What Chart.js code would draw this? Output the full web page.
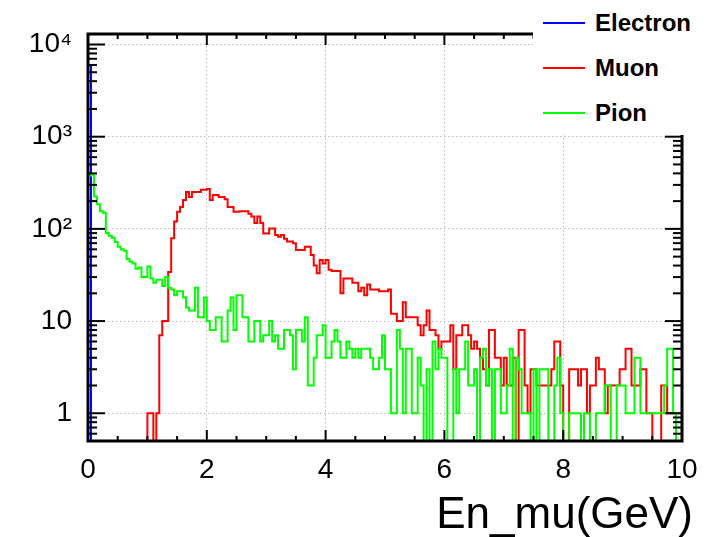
<!DOCTYPE html>
<html><head><meta charset="utf-8">
<script src="https://cdn.jsdelivr.net/npm/chart.js@4.4.1/dist/chart.umd.min.js"></script>
<style>
html,body{margin:0;padding:0;background:#fff;}
#wrap{position:relative;width:710px;height:537px;overflow:hidden;}
#legend{position:absolute;left:533px;top:0;width:177px;height:135px;background:#fff;font-family:"Liberation Sans",Arial,Helvetica,sans-serif;font-weight:bold;font-size:24px;color:#000;}
.item{position:absolute;left:0;width:177px;height:30px;}
.swatch{position:absolute;left:10px;top:14px;width:42px;height:2px;}
.lab{position:absolute;left:62px;top:0;line-height:30px;white-space:nowrap;}
#xtitle{position:absolute;right:17px;top:491px;font-family:"Liberation Sans",Arial,Helvetica,sans-serif;font-size:44px;line-height:44px;color:#000;white-space:nowrap;}
</style></head><body>
<div id="wrap"><canvas id="c" width="710" height="537"></canvas><div id="legend"></div><div id="xtitle"></div></div>
<script>
// ---- histogram definition ----
const xMin = 0, xMax = 10, nBins = 200;
const seriesNames = ["Electron", "Muon", "Pion"];
const seriesColors = ["#0000ff", "#ff0000", "#00ff00"];
const xTickValues = [0, 2, 4, 6, 8, 10];
const yTickValues = [1, 10, 100, 1000, 10000];
const yTickLabels = ["1", "10", "10\u00B2", "10\u00B3", "10\u2074"];
const yMin = 0.5, yMax = 13000;
const xTitle = "En_mu(GeV)";

const electronCounts = [
6000,0,0,0,0,0,0,0,0,0,0,0,0,0,0,0,0,0,0,0,
0,0,0,0,0,0,0,0,0,0,0,0,0,0,0,0,0,0,0,0,
0,0,0,0,0,0,0,0,0,0,0,0,0,0,0,0,0,0,0,0,
0,0,0,0,0,0,0,0,0,0,0,0,0,0,0,0,0,0,0,0,
0,0,0,0,0,0,0,0,0,0,0,0,0,0,0,0,0,0,0,0,
0,0,0,0,0,0,0,0,0,0,0,0,0,0,0,0,0,0,0,0,
0,0,0,0,0,0,0,0,0,0,0,0,0,0,0,0,0,0,0,0,
0,0,0,0,0,0,0,0,0,0,0,0,0,0,0,0,0,0,0,0,
0,0,0,0,0,0,0,0,0,0,0,0,0,0,0,0,0,0,0,0,
0,0,0,0,0,0,0,0,0,0,0,0,0,0,0,0,0,0,0,0
];
const muonCounts = [
0,0,0,0,0,0,0,0,0,0, 0,0,0,0,0,0,0,0,0,0,
1,1,0,1,7,10,10,34,79,120, 153,173,206,251,222,251,251,251,265,265,
270,206,233,233,222,222,210,173,173,153, 153,155,155,155,146,136,116,136,116,89,
89,101,101,86,82,86,78,73,73,70, 59,59,59,64,64,52,40,33,46,42,
46,36,35,35,35,20,29,29,29,26, 26,21,23,19,25,22,22,22,21,21,
21,22,12,12,10,10,16,11,11,11, 11,9,7,9,13,8,8,7,5,6,
6,6,9,3,7,7,9,9,7,5, 6,5,4,3,2,8,8,4,4,2,
4,2,2,4,0,8,8,2,1,3, 3,2,2,2,2,2,3,6,6,2,
0,0,3,3,3,2,3,3,1,2, 2,4,3,3,1,2,2,2,2,3,
3,5,5,2,2,2,3,3,1,1, 0,0,0,2,2,1,1,1,1,1
];
const pionCounts = [
380,390,225,185,155,150,90,84,80,72, 64,60,58,47,44,42,37,38,30,30,
39,29,26,28,28,24,30,23,22,19, 21,21,18,14,13,13,23,11,11,18,
10,8,8,11,11,6,6,13,18,8, 19,19,11,11,6,6,10,10,6,7,
7,10,6,7,5,5,8,8,7,3, 8,8,6,11,2,2,4,7,7,9,
4,4,6,8,6,4,4,6,5,4, 5,4,5,5,5,4,3,3,4,7,
3,3,1,1,8,5,1,5,5,1, 1,4,2,0,3,0,6,3,5,4,
4,0,0,3,1,3,3,6,2,2, 3,0,4,5,2,3,0,3,3,1,
1,2,5,0,4,3,1,1,1,0, 3,0,3,3,3,0,0,2,4,1,
0,0,1,1,1,1,0,1,1,0, 0,1,1,1,2,2,0,0,2,2,
2,1,1,1,4,4,1,1,1,1, 1,1,1,1,2,5,5,1,0,0
];
const seriesCounts = [electronCounts, muonCounts, pionCounts];

// ---- build step outlines from bin contents ----
const binWidth = (xMax - xMin) / nBins;
function outline(counts) {
  const pts = [{x: xMin, y: yMin}];
  counts.forEach((c, i) => pts.push({x: xMin + i * binWidth, y: c > 0 ? c : yMin}));
  const last = counts[counts.length - 1];
  pts.push({x: xMax, y: last > 0 ? last : yMin});
  pts.push({x: xMax, y: yMin});
  return pts;
}

const FONT = '"Liberation Sans", Arial, Helvetica, sans-serif';

const frameTicks = {
  id: 'frameTicks',
  afterDatasetsDraw(chart) {
    const {ctx, chartArea: a, scales: {x, y}} = chart;
    ctx.save();
    ctx.strokeStyle = '#000';
    ctx.lineWidth = 2;
    const seg = (x1, y1, x2, y2) => { ctx.beginPath(); ctx.moveTo(x1, y1); ctx.lineTo(x2, y2); ctx.stroke(); };
    for (let k = 0; k <= (xMax - xMin) / 0.5; k++) {
      const v = xMin + k * 0.5;
      const px = x.getPixelForValue(v);
      const len = (k % 4 === 0) ? 11 : 5;
      seg(px, a.bottom, px, a.bottom - len);
      seg(px, a.top, px, a.top + len);
    }
    for (let e = -1; e <= 4; e++) {
      for (let m = 1; m <= 9; m++) {
        const v = m * Math.pow(10, e);
        if (v < yMin || v > yMax) continue;
        const py = y.getPixelForValue(v);
        const len = m === 1 ? 17 : 9;
        seg(a.left, py, a.left + len, py);
        seg(a.right, py, a.right - len, py);
      }
    }
    ctx.lineWidth = 3;
    ctx.strokeRect(a.left, a.top, a.right - a.left, a.bottom - a.top);
    ctx.restore();
  }
};

const datasets = seriesNames.map((name, i) => ({
  label: name,
  data: outline(seriesCounts[i]),
  borderColor: seriesColors[i],
  backgroundColor: seriesColors[i],
  borderWidth: 2,
  pointRadius: 0,
  stepped: true,
  fill: false,
  tension: 0,
  order: seriesNames.length - i
}));

new Chart(document.getElementById('c'), {
  type: 'line',
  data: {datasets},
  options: {
    responsive: false,
    animation: false,
    devicePixelRatio: 1,
    layout: {padding: {top: 34, right: 28, left: 0, bottom: 0}},
    plugins: {legend: {display: false}, tooltip: {enabled: false}},
    scales: {
      x: {
        type: 'linear', min: xMin, max: xMax,
        afterBuildTicks: s => { s.ticks = xTickValues.map(v => ({value: v})); },
        afterFit: s => { s.height = 96; },
        ticks: {autoSkip: false, maxRotation: 0, padding: 12, color: '#000', font: {family: FONT, size: 28}},
        grid: {drawTicks: false, color: '#bbbbbb', lineWidth: 1},
        border: {display: false, dash: [1.5, 2.5]},
        title: {display: false, text: xTitle}
      },
      y: {
        type: 'logarithmic', min: yMin, max: yMax,
        afterBuildTicks: s => { s.ticks = yTickValues.map(v => ({value: v})); },
        afterFit: s => { s.width = 88; },
        ticks: {autoSkip: false, padding: 16, color: '#000', font: {family: FONT, size: 28},
                callback: (v, i) => yTickLabels[i]},
        grid: {drawTicks: false, color: '#bbbbbb', lineWidth: 1},
        border: {display: false, dash: [1.5, 2.5]}
      }
    }
  },
  plugins: [frameTicks]
});

// ---- axis title and legend (HTML text) ----
document.getElementById('xtitle').textContent = xTitle;
const legend = document.getElementById('legend');
const legendTops = [8, 53, 98];
seriesNames.forEach((name, i) => {
  const it = document.createElement('div');
  it.className = 'item';
  it.style.top = legendTops[i] + 'px';
  const sw = document.createElement('div');
  sw.className = 'swatch';
  sw.style.background = seriesColors[i];
  const lb = document.createElement('div');
  lb.className = 'lab';
  lb.textContent = name;
  it.appendChild(sw); it.appendChild(lb);
  legend.appendChild(it);
});
</script>
</body></html>
